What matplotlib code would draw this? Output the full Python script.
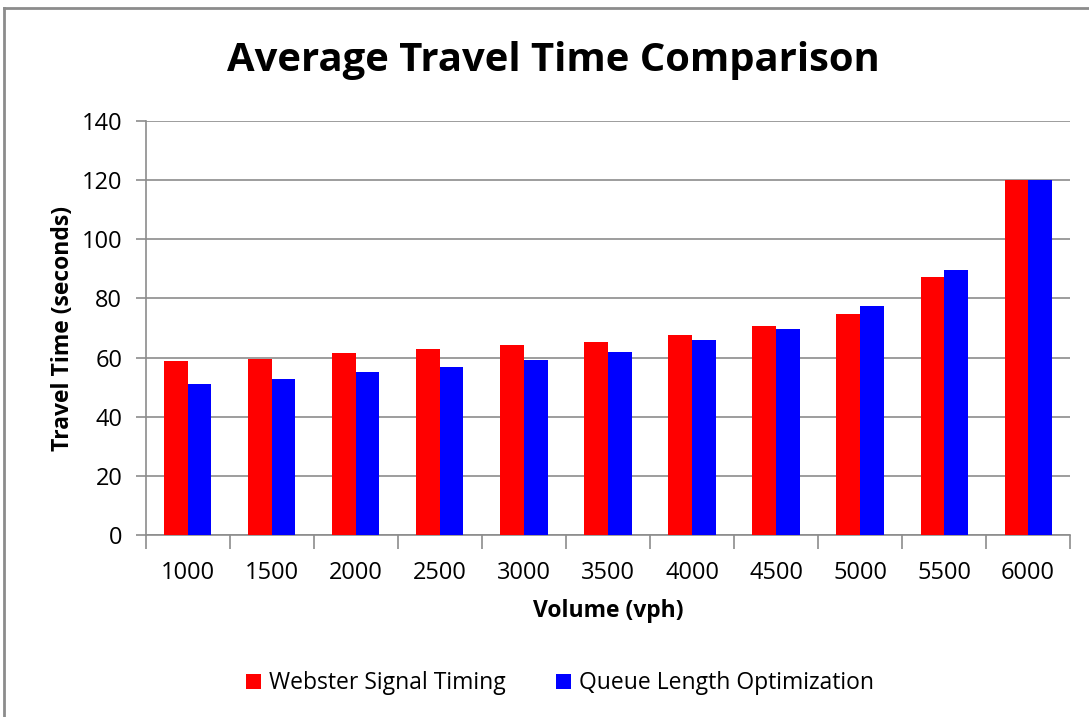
import numpy as np
import matplotlib
matplotlib.use("Agg")
from matplotlib import pyplot as plt
from matplotlib.lines import Line2D

# data
volumes = ["1000", "1500", "2000", "2500", "3000", "3500",
           "4000", "4500", "5000", "5500", "6000"]
webster = [59.0, 59.4, 61.6, 62.8, 64.1, 65.4, 67.7, 70.7, 74.6, 87.2, 120.0]
queue = [51.2, 52.9, 55.0, 56.8, 59.3, 62.0, 65.9, 69.8, 77.6, 89.8, 120.0]

plt.rcParams['font.family'] = ['Open Sans', 'DejaVu Sans']

fig = plt.figure(figsize=(10.89, 7.17), dpi=100)
ax = fig.add_axes([0.134, 0.254, 0.8486, 0.577])

x = np.arange(len(volumes))
w = 0.28
ax.bar(x - w / 2, webster, w, color='#ff0000', label='Webster Signal Timing', zorder=3)
ax.bar(x + w / 2, queue, w, color='#0000ff', label='Queue Length Optimization', zorder=3)

ax.set_xlim(-0.5, len(volumes) - 0.5)
ax.set_ylim(0, 140)
ax.set_yticks(np.arange(0, 141, 20))
ax.yaxis.grid(True, color='#8c8c8c', linewidth=1.2, zorder=0)

# category ticks between groups, labels centered on groups
ax.set_xticks(np.arange(-0.5, len(volumes), 1.0))
ax.set_xticklabels([])
ax.set_xticks(x, minor=True)
ax.set_xticklabels(volumes, minor=True)
ax.tick_params(axis='x', which='major', direction='out', length=10, color='#8c8c8c', width=1.2)
ax.tick_params(axis='x', which='minor', length=0, pad=19, labelsize=17)
ax.tick_params(axis='y', direction='out', length=7, color='#8c8c8c', width=1.2, pad=10, labelsize=17)

for s in ['top', 'right']:
    ax.spines[s].set_visible(False)
for s in ['left', 'bottom']:
    ax.spines[s].set_color('#8c8c8c')
    ax.spines[s].set_linewidth(1.2)

ax.set_xlabel('Volume (vph)', fontsize=16.5, fontweight='bold', labelpad=10)
ax.set_ylabel('Travel Time (seconds)', fontsize=16.5, fontweight='bold', labelpad=5)

fig.text(0.508, 0.915, 'Average Travel Time Comparison', ha='center', va='center',
         fontsize=28.8, fontweight='bold')

fig.legend(loc='center', bbox_to_anchor=(0.514, 0.047), ncol=2, frameon=False,
           fontsize=16.5, handlelength=0.65, handleheight=0.65, handletextpad=0.35,
           columnspacing=2.2)

# outer chart frame (top and left visible)
fig.add_artist(Line2D([0.004, 0.004], [0.0, 0.989], color='#8c8c8c', linewidth=2,
                      transform=fig.transFigure))
fig.add_artist(Line2D([0.004, 1.0], [0.989, 0.989], color='#8c8c8c', linewidth=2,
                      transform=fig.transFigure))

fig.savefig('out.png', dpi=100)
